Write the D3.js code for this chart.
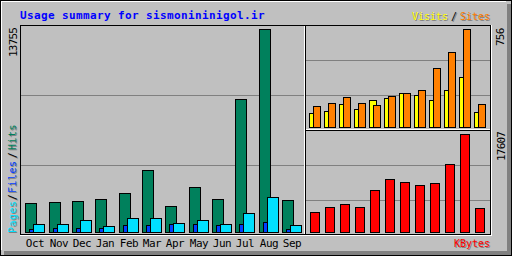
<!DOCTYPE html>
<html>
<head>
<meta charset="utf-8">
<script src="https://cdn.jsdelivr.net/npm/d3@7"></script>
<style>
  body { margin: 0; background: #fff; }
  svg { display: block; }
  text { font-family: "DejaVu Sans Mono", "Liberation Mono", monospace; }
</style>
</head>
<body>
<script>
// monthly totals
const months = ['Oct', 'Nov', 'Dec', 'Jan', 'Feb', 'Mar', 'Apr', 'May', 'Jun', 'Jul', 'Aug', 'Sep'];
const hits   = [1948, 2016, 2104, 2219, 2626, 4187, 1744, 3033, 2219, 9020, 13755, 2151];
const files  = [204, 251, 251, 251, 455, 455, 543, 523, 455, 523, 658, 204];
const pages  = [543, 543, 794, 387, 930, 930, 590, 814, 543, 1269, 2355, 455];
const visits = [110, 126, 180, 141, 211, 226, 265, 249, 211, 288, 388, 118];
const sites  = [164, 187, 234, 187, 172, 241, 265, 288, 457, 581, 756, 180];
const kbytes = [3593, 4492, 5031, 4492, 7546, 9523, 8983, 8444, 8803, 12217, 17607, 4312];

const title = 'Usage summary for sismonininigol.ir';

const width = 512, height = 256;
const grey = '#C0C0C0', dkgrey = '#808080';
const colors = {
    hits: '#00805C', files: '#0040FF', pages: '#00E0FF',
    visits: '#FFFF00', sites: '#FF8000', kbytes: '#FF0000', title: '#0000FF'
};

const svg = d3.select('body').append('svg')
    .attr('width', width)
    .attr('height', height)
    .attr('shape-rendering', 'crispEdges');

// background + bevel
svg.append('rect').attr('width', width).attr('height', height).attr('fill', grey);
svg.append('rect').attr('x', 507).attr('y', 4).attr('width', 4).attr('height', 251).attr('fill', dkgrey);
svg.append('rect').attr('x', 4).attr('y', 251).attr('width', 507).attr('height', 4).attr('fill', dkgrey);
svg.append('rect').attr('x', 0.5).attr('y', 0.5).attr('width', 511).attr('height', 255)
    .attr('fill', 'none').attr('stroke', '#000');
svg.append('path').attr('d', 'M1.5,250V1.5H506').attr('fill', 'none').attr('stroke', '#fff');

function hline(y, x1, x2, c) {
    svg.append('line').attr('x1', x1).attr('x2', x2 + 1).attr('y1', y + 0.5).attr('y2', y + 0.5).attr('stroke', c);
}
function vline(x, y1, y2, c) {
    svg.append('line').attr('x1', x + 0.5).attr('x2', x + 0.5).attr('y1', y1).attr('y2', y2 + 1).attr('stroke', c);
}

// grid lines
hline(95, 21, 304, dkgrey);
hline(165, 21, 304, dkgrey);
hline(60, 306, 489, dkgrey);
hline(95, 306, 489, dkgrey);
hline(165, 306, 489, dkgrey);
hline(200, 306, 489, dkgrey);

// panel frames
svg.append('rect').attr('x', 20.5).attr('y', 25.5).attr('width', 470).attr('height', 209)
    .attr('fill', 'none').attr('stroke', '#000');
vline(305, 25, 234, '#000');
hline(130, 305, 490, '#000');
vline(491, 25, 235, '#fff');
hline(235, 20, 491, '#fff');
vline(304, 26, 233, '#fff');
hline(129, 306, 489, '#fff');

// scales
const xLeft = d3.scaleBand().domain(months).range([25, 305]);
const xRight = d3.scaleBand().domain(months).range([309, 489]);
const yLeft = d3.scaleLinear().domain([0, d3.max(hits)]).range([232, 29]);
const yTop = d3.scaleLinear().domain([0, d3.max(visits.concat(sites))]).range([127, 29]);
const yBot = d3.scaleLinear().domain([0, d3.max(kbytes)]).range([232, 134]);

function bars(values, xs, off, w, ys, base, fill) {
    svg.append('g').selectAll('rect')
        .data(values)
        .join('rect')
        .attr('x', (d, i) => Math.ceil(xs(months[i])) + off + 0.5)
        .attr('y', d => Math.round(ys(d)) + 0.5)
        .attr('width', w)
        .attr('height', d => base - Math.round(ys(d)))
        .attr('fill', fill)
        .attr('stroke', '#000');
}

bars(hits, xLeft, 0, 11, yLeft, 232, colors.hits);
bars(files, xLeft, 4, 11, yLeft, 232, colors.files);
bars(pages, xLeft, 8, 11, yLeft, 232, colors.pages);
bars(visits, xRight, 0, 7, yTop, 127, colors.visits);
bars(sites, xRight, 4, 7, yTop, 127, colors.sites);
bars(kbytes, xRight, 1, 9, yBot, 232, colors.kbytes);

// month labels
svg.append('g').selectAll('text')
    .data(months)
    .join('text')
    .attr('x', d => Math.ceil(xLeft(d)) + 10)
    .attr('y', 247)
    .attr('text-anchor', 'middle')
    .attr('font-size', 11)
    .attr('letter-spacing', -0.5)
    .attr('fill', '#000')
    .text(d => d);

// title
svg.append('text')
    .attr('x', 20).attr('y', 19)
    .attr('font-size', 11).attr('font-weight', 'bold')
    .attr('letter-spacing', 0.38)
    .attr('fill', colors.title)
    .text(title);

// text with a grey drop shadow
function shadowText(x, y, str, color, anchor, rotate) {
    [[1, dkgrey], [0, color]].forEach(([o, c]) => {
        svg.append('text')
            .attr('x', x + o).attr('y', y + o)
            .attr('transform', rotate ? `rotate(-90,${x + o},${y + o})` : null)
            .attr('text-anchor', anchor)
            .attr('font-size', 10)
            .attr('letter-spacing', rotate ? 0.5 : 0)
            .attr('fill', c)
            .text(str);
    });
}

// legends
shadowText(448, 20, 'Visits', colors.visits, 'end');
shadowText(454, 20, '/', '#000', 'middle');
shadowText(490, 20, 'Sites', colors.sites, 'end');
shadowText(490, 247, 'KBytes', colors.kbytes, 'end');

shadowText(16, 233, 'Pages', colors.pages, 'start', true);
shadowText(16, 197, '/', '#000', 'middle', true);
shadowText(16, 193, 'Files', colors.files, 'start', true);
shadowText(16, 155, '/', '#000', 'middle', true);
shadowText(16, 150, 'Hits', colors.hits, 'start', true);

// max value labels
function upLabel(x, y, v) {
    svg.append('text')
        .attr('x', x).attr('y', y)
        .attr('transform', `rotate(-90,${x},${y})`)
        .attr('font-size', 11)
        .attr('letter-spacing', -0.8)
        .attr('fill', '#000')
        .text(v);
}
upLabel(17, 57, d3.max(hits));
upLabel(504, 46, d3.max(visits.concat(sites)));
upLabel(505, 161, d3.max(kbytes));
</script>
</body>
</html>
